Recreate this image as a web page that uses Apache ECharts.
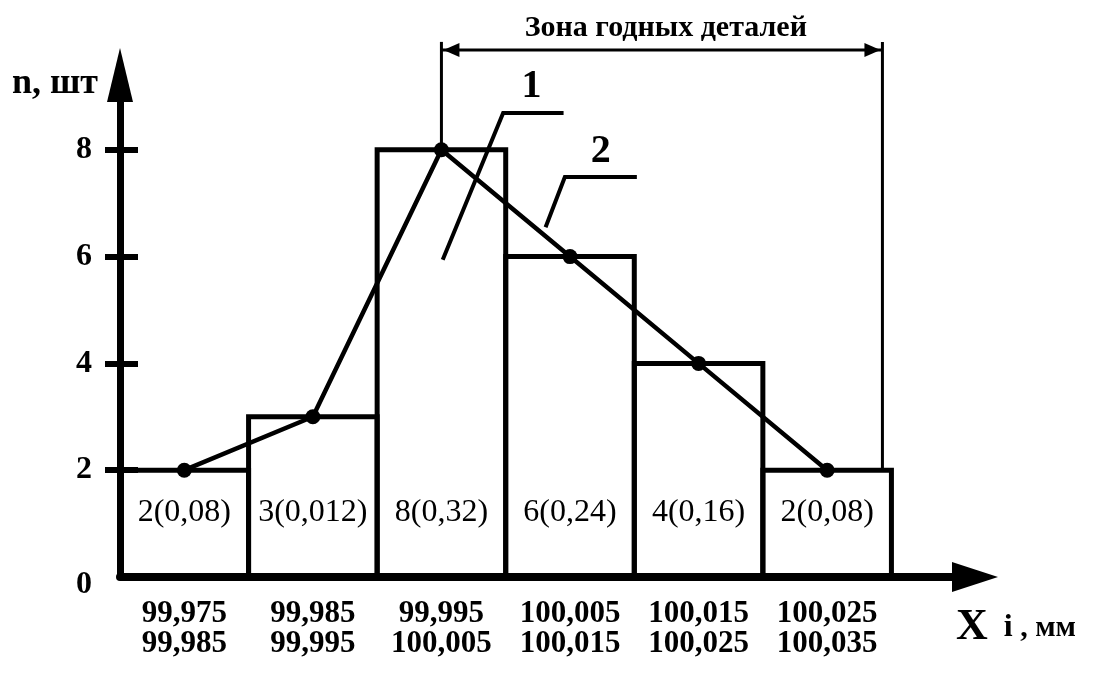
<!DOCTYPE html>
<html><head><meta charset="utf-8">
<script src="https://cdn.jsdelivr.net/npm/echarts@6/dist/echarts.min.js"></script>
<style>html,body{margin:0;padding:0;background:#fff}#c{width:1093px;height:675px}</style>
</head><body><div id="c"></div>
<script>
// ---- data ----
const lowerBounds = ['99,975', '99,985', '99,995', '100,005', '100,015', '100,025'];
const upperBounds = ['99,985', '99,995', '100,005', '100,015', '100,025', '100,035'];
const counts = [2, 3, 8, 6, 4, 2];
const frequencies = ['0,08', '0,012', '0,32', '0,24', '0,16', '0,08'];
const yTickLabels = [0, 2, 4, 6, 8];
const yTickMarks = [2, 4, 6, 8];
const zoneLabel = 'Зона годных деталей';
const yAxisTitle = 'n, шт';

// ---- chart ----
const FONT = 'Liberation Serif';
const chart = echarts.init(document.getElementById('c'));
const binCenters = counts.map((_, i) => i + 0.5);
const XMAX = 6.65, YMAX = 9.4;

const option = {
  animation: false,
  backgroundColor: '#fff',
  grid: { left: 120, top: 75, width: 855, height: 502 },
  xAxis: {
    type: 'value', min: 0, max: XMAX,
    axisLine: { show: true, lineStyle: { color: '#000', width: 8 }, symbol: ['none', 'triangle'], symbolSize: [30, 46] },
    axisTick: { show: false },
    splitLine: { show: false },
    axisLabel: {
      customValues: binCenters,
      formatter: v => { const i = Math.round(v - 0.5); return lowerBounds[i] + '\n' + upperBounds[i]; },
      fontFamily: FONT, fontWeight: 'bold', fontSize: 31, color: '#000', lineHeight: 30, margin: 22
    }
  },
  yAxis: [{
    type: 'value', min: 0, max: YMAX,
    axisLine: { show: true, lineStyle: { color: '#000', width: 7 }, symbol: ['none', 'triangle'], symbolSize: [26, 54] },
    axisTick: { show: true, customValues: yTickMarks, length: 15, lineStyle: { color: '#000', width: 6 } },
    axisLabel: {
      customValues: yTickLabels,
      formatter: v => v === 0 ? '{z|0}' : String(v),
      rich: { z: { padding: [16, 0, 0, 0], fontFamily: FONT, fontWeight: 'bold', fontSize: 32, color: '#000' } },
      fontFamily: FONT, fontWeight: 'bold', fontSize: 32, color: '#000', margin: 28
    },
    splitLine: { show: false }
  }, {
    type: 'value', min: 0, max: YMAX, position: 'left',
    axisLine: { show: false },
    axisLabel: { show: false },
    splitLine: { show: false },
    axisTick: { show: true, inside: true, customValues: yTickMarks, length: 18, lineStyle: { color: '#000', width: 6 } }
  }],
  series: [{
    type: 'custom',
    clip: false,
    z: 3,
    data: counts.map((c, i) => [i, c]),
    encode: { x: 0, y: 1 },
    renderItem: (params, api) => {
      const i = api.value(0), c = api.value(1);
      const p0 = api.coord([i, c]);
      const p1 = api.coord([i + 1, 0]);
      const pt = api.coord([i + 0.5, 1.2]);
      return {
        type: 'group',
        children: [{
          type: 'rect',
          shape: { x: p0[0], y: p0[1], width: p1[0] - p0[0], height: p1[1] - p0[1] },
          style: { fill: 'transparent', stroke: '#000', lineWidth: 5 }
        }, {
          type: 'text',
          style: {
            x: pt[0], y: pt[1], text: counts[params.dataIndex] + '(' + frequencies[params.dataIndex] + ')',
            align: 'center', verticalAlign: 'middle', fill: '#000',
            font: 'normal 32px "' + FONT + '"'
          }
        }]
      };
    }
  }, {
    type: 'line',
    z: 5,
    data: binCenters.map((x, i) => [x, counts[i]]),
    symbol: 'circle', symbolSize: 15,
    lineStyle: { color: '#000', width: 4.5 },
    itemStyle: { color: '#000' }
  }]
};
chart.setOption(option);

// ---- annotations (anchored in data coordinates) ----
const px = p => chart.convertToPixel({ xAxisIndex: 0, yAxisIndex: 0 }, p);
const leader1 = [[2.51, 5.94], [2.98, 8.69], [3.45, 8.69]];
const leader2 = [[3.31, 6.55], [3.46, 7.49], [4.02, 7.49]];
const zoneStart = binCenters[2], zoneEnd = 5.93;
const zoneTop = 10.02, zoneArrowY = 9.87, zoneTextY = 10.28;

const g = [];
function poly(points, w) {
  g.push({ type: 'polyline', shape: { points: points.map(px) }, style: { stroke: '#000', lineWidth: w, fill: null }, z: 10 });
}
function txt(p, text, size) {
  const q = px(p);
  g.push({ type: 'text', x: q[0], y: q[1], style: { text, fill: '#000', font: 'bold ' + size + 'px "' + FONT + '"', align: 'center', verticalAlign: 'middle' }, z: 10 });
}
poly(leader1, 4); txt([3.20, 9.19], '1', 40);
poly(leader2, 4); txt([3.74, 7.96], '2', 40);
// zone of good parts
poly([[zoneStart, zoneTop], [zoneStart, counts[2]]], 3);
poly([[zoneEnd, zoneTop], [zoneEnd, counts[5]]], 3);
poly([[zoneStart, zoneArrowY], [zoneEnd, zoneArrowY]], 3);
const a0 = px([zoneStart, zoneArrowY]), a1 = px([zoneEnd, zoneArrowY]);
g.push({ type: 'polygon', shape: { points: [[a0[0] + 2, a0[1]], [a0[0] + 18, a0[1] - 7], [a0[0] + 18, a0[1] + 7]] }, style: { fill: '#000' }, z: 10 });
g.push({ type: 'polygon', shape: { points: [[a1[0] - 2, a1[1]], [a1[0] - 18, a1[1] - 7], [a1[0] - 18, a1[1] + 7]] }, style: { fill: '#000' }, z: 10 });
txt([(zoneStart + zoneEnd) / 2 + 0.03, zoneTextY], zoneLabel, 30);

// axis titles
g.push({ type: 'text', x: 98, y: 84, style: { text: yAxisTitle, fill: '#000', font: 'bold 36px "' + FONT + '"', align: 'right', verticalAlign: 'middle' }, z: 10 });
g.push({ type: 'text', x: 956, y: 628, style: {
  text: '{a|X}{b|  i}{c| , мм}', fill: '#000', align: 'left', verticalAlign: 'middle',
  rich: {
    a: { fontFamily: FONT, fontWeight: 'bold', fontSize: 44, fill: '#000' },
    b: { fontFamily: FONT, fontWeight: 'bold', fontSize: 32, fill: '#000' },
    c: { fontFamily: FONT, fontWeight: 'bold', fontSize: 30, fill: '#000' }
  }
}, z: 10 });
chart.setOption({ graphic: { elements: g } });
</script>
</body></html>
